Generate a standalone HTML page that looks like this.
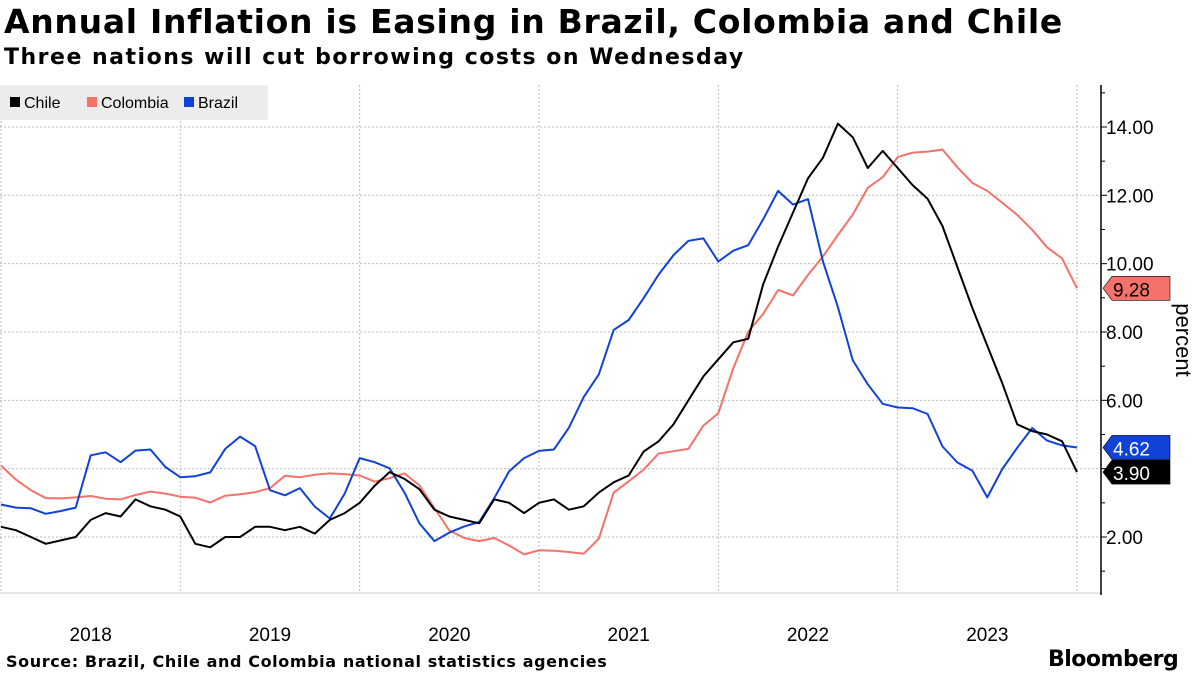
<!DOCTYPE html>
<html><head><meta charset="utf-8"><style>
body{margin:0;width:1200px;height:675px;background:#fff;font-family:"Liberation Sans","DejaVu Sans",sans-serif;overflow:hidden}
.t{position:absolute;left:4px;top:2px;font-size:33px;font-weight:bold;color:#000;font-family:"DejaVu Sans",sans-serif;letter-spacing:0.7px;white-space:nowrap}
.s{position:absolute;left:4px;top:45px;font-size:22px;font-weight:bold;font-family:"DejaVu Sans",sans-serif;letter-spacing:1.5px;white-space:nowrap}
.src{position:absolute;left:6px;top:652px;font-size:16px;font-weight:bold;font-family:"DejaVu Sans",sans-serif;letter-spacing:0.6px;white-space:nowrap}
.bb{position:absolute;left:1048px;top:647px;font-size:22px;font-weight:bold;letter-spacing:-0.5px;font-family:"DejaVu Sans",sans-serif}
</style></head><body>
<div class="t">Annual Inflation is Easing in Brazil, Colombia and Chile</div>
<div class="s">Three nations will cut borrowing costs on Wednesday</div>
<svg id="c" width="1200" height="675" style="position:absolute;left:0;top:0"></svg>
<div class="src">Source: Brazil, Chile and Colombia national statistics agencies</div>
<div class="bb">Bloomberg</div>
<script>
const yearLabels=["2018","2019","2020","2021","2022","2023"];
const yTicks=[2,4,6,8,10,12,14];
const chile=[2.3,2.2,2.0,1.8,1.9,2.0,2.5,2.7,2.6,3.1,2.9,2.8,2.6,1.8,1.7,2.0,2.0,2.3,2.3,2.2,2.3,2.1,2.5,2.7,3.0,3.5,3.9,3.7,3.4,2.8,2.6,2.5,2.4,3.1,3.0,2.7,3.0,3.1,2.8,2.9,3.3,3.6,3.8,4.5,4.8,5.3,6.0,6.7,7.2,7.7,7.8,9.4,10.5,11.5,12.5,13.1,14.1,13.7,12.8,13.3,12.8,12.3,11.9,11.1,9.9,8.7,7.6,6.5,5.3,5.1,5.0,4.8,3.9];
const colombia=[4.09,3.68,3.37,3.14,3.13,3.16,3.20,3.12,3.10,3.23,3.33,3.27,3.18,3.15,3.01,3.21,3.25,3.31,3.43,3.79,3.75,3.82,3.86,3.84,3.80,3.62,3.72,3.86,3.51,2.85,2.19,1.97,1.88,1.97,1.75,1.49,1.61,1.60,1.56,1.51,1.95,3.30,3.63,3.97,4.44,4.51,4.58,5.26,5.62,6.94,8.01,8.53,9.23,9.07,9.67,10.21,10.84,11.44,12.22,12.53,13.12,13.25,13.28,13.34,12.82,12.36,12.13,11.78,11.43,10.99,10.48,10.15,9.28];
const brazil=[2.95,2.86,2.84,2.68,2.76,2.86,4.39,4.48,4.19,4.53,4.56,4.05,3.75,3.78,3.89,4.58,4.94,4.66,3.37,3.22,3.43,2.89,2.54,3.27,4.31,4.19,4.01,3.30,2.40,1.88,2.13,2.31,2.44,3.14,3.92,4.31,4.52,4.56,5.20,6.10,6.76,8.06,8.35,8.99,9.68,10.25,10.67,10.74,10.06,10.38,10.54,11.30,12.13,11.73,11.89,10.07,8.73,7.17,6.47,5.90,5.79,5.77,5.60,4.65,4.18,3.94,3.16,3.99,4.61,5.19,4.82,4.68,4.62];
const svg=document.getElementById('c');const NS='http://www.w3.org/2000/svg';
function el(t,a,txt){const e=document.createElementNS(NS,t);for(const k in a)e.setAttribute(k,a[k]);if(txt!=null)e.textContent=txt;svg.appendChild(e);return e;}
const X=i=>1+i*(1076/72);
const Y=v=>537-(v-2)*(410/12);
yTicks.forEach(v=>{const g=el('line',{x1:0,x2:1100,y1:Y(v),y2:Y(v),stroke:'#bbb','stroke-dasharray':'2,2','stroke-width':1});


const t=el('text',{x:1106,y:Y(v)+7,'font-size':19,fill:'#000'},v.toFixed(2));


el('line',{x1:1101,x2:1107,y1:Y(v),y2:Y(v),stroke:'#000'});
el('line',{x1:1101,x2:1105,y1:Y(v+1),y2:Y(v+1),stroke:'#000'});});
el('line',{x1:1101,x2:1105,y1:Y(1),y2:Y(1),stroke:'#000'});
yearLabels.forEach((l,k)=>{const gx=X(k*12);
const g=el('line',{x1:gx,x2:gx,y1:85,y2:593,stroke:'#bbb','stroke-dasharray':'2,2'});


const t=el('text',{x:X(k*12+6),y:641,'font-size':19,'text-anchor':'middle'},l);

});
el('line',{x1:X(72),x2:X(72),y1:85,y2:593,stroke:'#bbb','stroke-dasharray':'2,2'});
el('line',{x1:0,x2:1101,y1:593,y2:593,stroke:'#ccc'});
const ax=el('line',{x1:1101,x2:1101,y1:85,y2:595,stroke:'#000','stroke-width':1.5});


const yt=el('text',{x:1176,y:340,'font-size':22,'text-anchor':'middle',transform:'rotate(90 1176 340)'},'percent');


function line(d,c,n){const p=el('path',{d:d.map((v,i)=>(i?'L':'M')+X(i).toFixed(1)+','+Y(v).toFixed(1)).join(''),fill:'none',stroke:c,'stroke-width':2,'stroke-linejoin':'round'});

}
line(colombia,'#f4726a','colombia-line');
line(brazil,'#1042d8','brazil-line');
line(chile,'#000','chile-line');
function tag(v,bg,n){const y=Y(v);const p=el('path',{d:`M1103,${y} L1112,${y-12} H1170 V${y+12} H1112 Z`,fill:bg,stroke:'#000','stroke-width':0.6});


el('text',{x:1113,y:y+8,'font-size':19,fill:bg=='#f4726a'?'#000':'#fff'},v.toFixed(2));}
tag(colombia[72],'#f4726a','colombia-last-value');
tag(brazil[72],'#1042d8','brazil-last-value');
tag(chile[72],'#000','chile-last-value');
const lg=el('rect',{x:0,y:85,width:268,height:35,fill:'#ececec'});


[['Chile','#000',10],['Colombia','#f4726a',87],['Brazil','#1042d8',184]].forEach(([n,c,x])=>{
el('rect',{x:x,y:97,width:10,height:10,fill:c});
const t=el('text',{x:x+14,y:108,'font-size':16},n);

});
</script>
</body></html>
